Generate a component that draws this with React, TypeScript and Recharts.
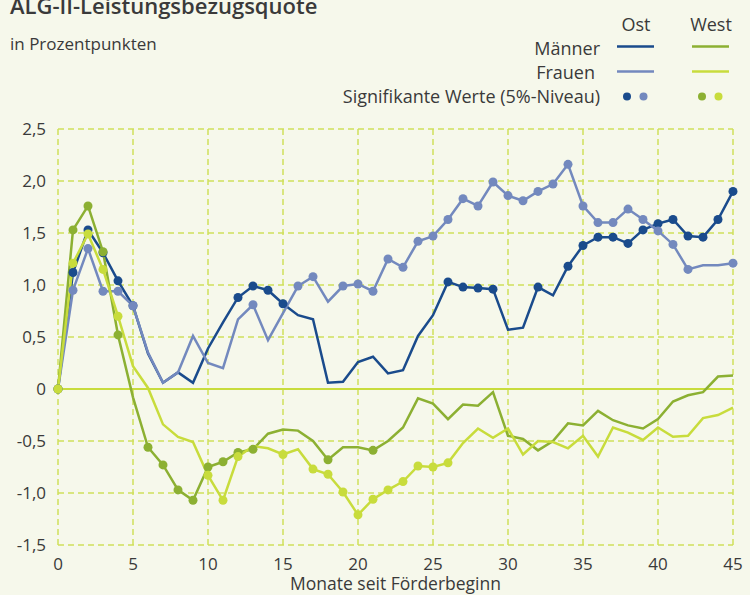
import { LineChart, Line, XAxis, YAxis, CartesianGrid, ReferenceLine } from 'recharts';

// Differenz der ALG-II-Leistungsbezugsquote, Monate 0..45
const maennerOst = [0, 1.12, 1.53, 1.31, 1.04, 0.8, 0.34, 0.06, 0.16, 0.06, 0.39, 0.64, 0.88, 0.99, 0.95, 0.82, 0.71, 0.67, 0.06, 0.07, 0.26, 0.31, 0.15, 0.18, 0.51, 0.71, 1.03, 0.98, 0.97, 0.96, 0.57, 0.59, 0.98, 0.9, 1.18, 1.38, 1.46, 1.46, 1.4, 1.53, 1.59, 1.63, 1.47, 1.46, 1.63, 1.9];
const frauenOst = [0, 0.95, 1.35, 0.94, 0.94, 0.8, 0.35, 0.06, 0.16, 0.51, 0.25, 0.2, 0.67, 0.81, 0.47, 0.73, 0.99, 1.08, 0.84, 0.99, 1.01, 0.94, 1.25, 1.17, 1.42, 1.47, 1.63, 1.83, 1.76, 1.99, 1.86, 1.81, 1.9, 1.97, 2.16, 1.76, 1.6, 1.6, 1.73, 1.63, 1.52, 1.39, 1.15, 1.19, 1.19, 1.21];
const maennerWest = [0, 1.53, 1.76, 1.32, 0.52, -0.08, -0.56, -0.73, -0.97, -1.07, -0.75, -0.7, -0.61, -0.58, -0.43, -0.39, -0.4, -0.5, -0.68, -0.56, -0.56, -0.59, -0.5, -0.37, -0.09, -0.14, -0.29, -0.15, -0.16, -0.03, -0.45, -0.48, -0.59, -0.5, -0.33, -0.35, -0.21, -0.3, -0.35, -0.38, -0.29, -0.12, -0.06, -0.03, 0.12, 0.13];
const frauenWest = [0, 1.21, 1.49, 1.15, 0.7, 0.22, 0.01, -0.34, -0.46, -0.51, -0.83, -1.07, -0.65, -0.55, -0.57, -0.63, -0.58, -0.77, -0.82, -0.99, -1.21, -1.06, -0.97, -0.89, -0.74, -0.75, -0.71, -0.52, -0.38, -0.47, -0.38, -0.63, -0.5, -0.51, -0.57, -0.45, -0.65, -0.37, -0.42, -0.49, -0.37, -0.46, -0.45, -0.28, -0.25, -0.18];

// signifikante Werte (5%-Niveau), als Monate
const sigMaennerOst = [0, 1, 2, 3, 4, 5, 12, 13, 14, 15, 26, 27, 28, 29, 32, 34, 35, 36, 37, 38, 39, 40, 41, 42, 43, 44, 45];
const sigFrauenOst = [0, 1, 2, 3, 4, 5, 13, 16, 17, 19, 20, 21, 22, 23, 24, 25, 26, 27, 28, 29, 30, 31, 32, 33, 34, 35, 36, 37, 38, 39, 40, 41, 42, 45];
const sigMaennerWest = [0, 1, 2, 3, 4, 6, 7, 8, 9, 10, 11, 12, 13, 18, 21];
const sigFrauenWest = [0, 1, 2, 3, 4, 10, 11, 12, 15, 17, 18, 19, 20, 21, 22, 23, 24, 25, 26];

const xTicks = [0, 5, 10, 15, 20, 25, 30, 35, 40, 45];
const yTicks = [-1.5, -1, -0.5, 0, 0.5, 1, 1.5, 2, 2.5];

const C_MO = '#1a4b8c';
const C_FO = '#7389be';
const C_MW = '#8cb032';
const C_FW = '#c8dc3c';
const GRID = '#cfe05c';
const TEXT = '#3a3a3a';
const FONT = '"Open Sans", sans-serif';

const data = maennerOst.map((v, i) => ({
  monat: i,
  mo: v,
  fo: frauenOst[i],
  mw: maennerWest[i],
  fw: frauenWest[i],
}));

const fmt = (v: number) => (v === 0 ? '0' : v.toFixed(1).replace('.', ','));

function sigDot(sig: number[], color: string) {
  return (props: any) => {
    const { cx, cy, payload, index } = props;
    if (!sig.includes(payload.monat)) return <g key={`d-${index}`} />;
    return <circle key={`d-${index}`} cx={cx} cy={cy} r={4.5} fill={color} stroke="none" />;
  };
}

function Legend() {
  return (
    <svg width={750} height={120} style={{ position: 'absolute', left: 0, top: 0, pointerEvents: 'none' }}>
      <text x={10} y={14} fontSize={22} fontWeight={600} fill={TEXT} fontFamily={FONT}>
        ALG-II-Leistungsbezugsquote
      </text>
      <text x={10} y={50} fontSize={17} fill={TEXT} fontFamily={FONT}>
        in Prozentpunkten
      </text>
      <g fontFamily={FONT} fontSize={18} fill={TEXT}>
        <text x={636} y={31} textAnchor="middle">Ost</text>
        <text x={711} y={31} textAnchor="middle">West</text>
        <text x={600} y={55} textAnchor="end">Männer</text>
        <text x={595} y={79} textAnchor="end">Frauen</text>
        <text x={600} y={103} textAnchor="end">Signifikante Werte (5%-Niveau)</text>
      </g>
      <line x1={617} x2={654} y1={46.5} y2={46.5} stroke={C_MO} strokeWidth={2.5} />
      <line x1={692} x2={729} y1={46.5} y2={46.5} stroke={C_MW} strokeWidth={2.5} />
      <line x1={617} x2={654} y1={71.5} y2={71.5} stroke={C_FO} strokeWidth={2.5} />
      <line x1={692} x2={729} y1={71.5} y2={71.5} stroke={C_FW} strokeWidth={2.5} />
      <circle cx={627} cy={96.5} r={4} fill={C_MO} />
      <circle cx={643.5} cy={96.5} r={4} fill={C_FO} />
      <circle cx={702} cy={96.5} r={4} fill={C_MW} />
      <circle cx={718.5} cy={96.5} r={4} fill={C_FW} />
    </svg>
  );
}

export default function App() {
  return (
    <div style={{ position: 'absolute', left: 0, top: 0, width: 750, height: 595, background: '#f6f8eb', overflow: 'hidden' }}>
      <LineChart width={750} height={595} data={data} margin={{ top: 129, right: 17, left: 0, bottom: 0 }}>
        <CartesianGrid stroke={GRID} strokeWidth={1.5} strokeDasharray="6 4" />
        <XAxis
          dataKey="monat"
          type="number"
          domain={[0, 45]}
          ticks={xTicks}
          height={50}
          axisLine={false}
          tickLine={false}
          tickSize={0}
          tickMargin={13}
          tick={{ fontSize: 17, fill: TEXT, fontFamily: FONT }}
          label={{ value: 'Monate seit Förderbeginn', position: 'insideBottom', offset: 5, fontSize: 17.5, fill: TEXT, fontFamily: FONT }}
        />
        <YAxis
          type="number"
          domain={[-1.5, 2.5]}
          ticks={yTicks}
          width={58}
          axisLine={false}
          tickLine={false}
          tickSize={0}
          tickMargin={12}
          tickFormatter={fmt}
          tick={{ fontSize: 17, fill: TEXT, fontFamily: FONT }}
        />
        <ReferenceLine y={0} stroke={C_FW} strokeWidth={2} />
        <Line dataKey="mo" stroke={C_MO} strokeWidth={2.5} dot={sigDot(sigMaennerOst, C_MO)} activeDot={false} isAnimationActive={false} />
        <Line dataKey="fo" stroke={C_FO} strokeWidth={2.5} dot={sigDot(sigFrauenOst, C_FO)} activeDot={false} isAnimationActive={false} />
        <Line dataKey="mw" stroke={C_MW} strokeWidth={2.5} dot={sigDot(sigMaennerWest, C_MW)} activeDot={false} isAnimationActive={false} />
        <Line dataKey="fw" stroke={C_FW} strokeWidth={2.5} dot={sigDot(sigFrauenWest, C_FW)} activeDot={false} isAnimationActive={false} />
      </LineChart>
      <Legend />
    </div>
  );
}
